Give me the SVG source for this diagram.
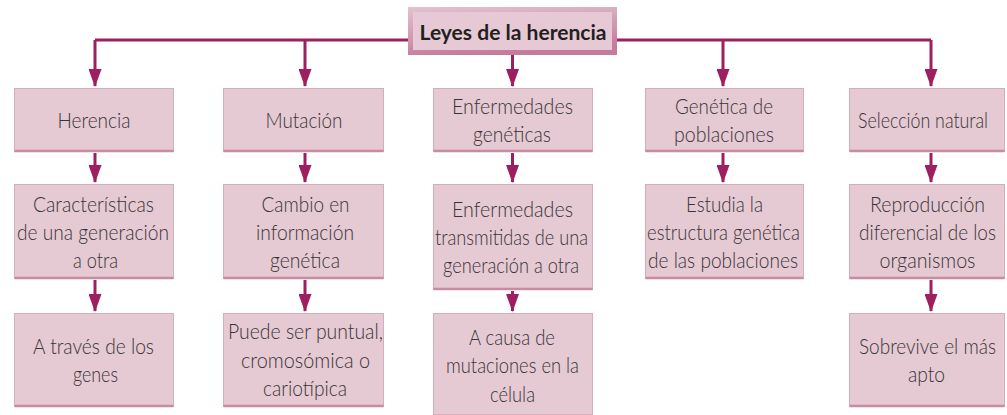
<svg xmlns="http://www.w3.org/2000/svg" width="1007" height="415" viewBox="0 0 1007 415">
  <style>
    .box { fill: #e5c9d3; stroke: #d6adbd; stroke-width: 1; }
    .edge { stroke: #c88ba3; stroke-width: 2.5; fill: none; }
    .t { font-family: Lato, "Open Sans", "Liberation Sans", sans-serif; font-weight: 300; font-size: 21.5px; fill: #3a3437; text-anchor: middle; }
    .title { font-family: Lato, "Open Sans", "Liberation Sans", sans-serif; font-weight: 700; font-size: 21.5px; fill: #231f20; text-anchor: middle; }
    .conn { stroke: #9d1f5f; stroke-width: 3; fill: none; }
  </style>
  <defs>
    <marker id="arrow" viewBox="0 0 18 13" refX="17" refY="6.5" markerWidth="18" markerHeight="13" markerUnits="userSpaceOnUse" orient="auto">
      <path d="M0,0 L18,6.5 L0,13 Z" fill="#9d1f5f"/>
    </marker>
    <linearGradient id="frame" x1="0" y1="0" x2="0.3" y2="1">
      <stop offset="0" stop-color="#e3c2cf"/>
      <stop offset="1" stop-color="#c47c9c"/>
    </linearGradient>
  </defs>
  <rect width="1007" height="415" fill="#ffffff"/>

  <g id="connectors">
    <path class="conn" d="M95,40 H931"/>
    <path class="conn" marker-end="url(#arrow)" d="M95,40 V86"/>
    <path class="conn" marker-end="url(#arrow)" d="M305,40 V86"/>
    <path class="conn" marker-end="url(#arrow)" d="M512.5,55 V86"/>
    <path class="conn" marker-end="url(#arrow)" d="M723,40 V86"/>
    <path class="conn" marker-end="url(#arrow)" d="M931,40 V86"/>

    <path class="conn" marker-end="url(#arrow)" d="M95,153 V182"/>
    <path class="conn" marker-end="url(#arrow)" d="M305,153 V182"/>
    <path class="conn" marker-end="url(#arrow)" d="M512.5,153 V182"/>
    <path class="conn" marker-end="url(#arrow)" d="M723,153 V182"/>
    <path class="conn" marker-end="url(#arrow)" d="M931,153 V182"/>

    <path class="conn" marker-end="url(#arrow)" d="M95,280 V311"/>
    <path class="conn" marker-end="url(#arrow)" d="M305,280 V311"/>
    <path class="conn" marker-end="url(#arrow)" d="M512.5,291 V311"/>
    <path class="conn" marker-end="url(#arrow)" d="M931,280 V311"/>
  </g>

  <g id="n-leyes">
    <rect x="408" y="7" width="209" height="48" fill="url(#frame)"/>
    <rect x="413" y="12" width="199" height="38" fill="#e6c9d4"/>
    <text class="title" x="513" y="39.5" textLength="187" lengthAdjust="spacingAndGlyphs">Leyes de la herencia</text>
  </g>

  <!-- Row 1 -->
  <g id="n-herencia">
    <rect class="box" x="14.5" y="88.5" width="159" height="63"/>
    <line class="edge" x1="14.5" y1="151" x2="173.5" y2="151"/>
    <text class="t" x="94" y="128" textLength="73" lengthAdjust="spacingAndGlyphs">Herencia</text>
  </g>
  <g id="n-mutacion">
    <rect class="box" x="223.5" y="88.5" width="160" height="63"/>
    <line class="edge" x1="223.5" y1="151" x2="383.5" y2="151"/>
    <text class="t" x="304" y="128" textLength="77" lengthAdjust="spacingAndGlyphs">Mutación</text>
  </g>
  <g id="n-enfermedades">
    <rect class="box" x="433.5" y="88.5" width="159" height="63"/>
    <line class="edge" x1="433.5" y1="151" x2="592.5" y2="151"/>
    <text class="t" x="512.5" y="114" textLength="121" lengthAdjust="spacingAndGlyphs">Enfermedades</text>
    <text class="t" x="512" y="142" textLength="78" lengthAdjust="spacingAndGlyphs">genéticas</text>
  </g>
  <g id="n-genetica-poblaciones">
    <rect class="box" x="645.5" y="88.5" width="158" height="63"/>
    <line class="edge" x1="645.5" y1="151" x2="803.5" y2="151"/>
    <text class="t" x="724" y="114" textLength="98" lengthAdjust="spacingAndGlyphs">Genética de</text>
    <text class="t" x="724" y="142" textLength="100" lengthAdjust="spacingAndGlyphs">poblaciones</text>
  </g>
  <g id="n-seleccion">
    <rect class="box" x="849.5" y="88.5" width="155" height="63"/>
    <line class="edge" x1="849.5" y1="151" x2="1004.5" y2="151"/>
    <text class="t" x="923" y="128" textLength="130" lengthAdjust="spacingAndGlyphs">Selección natural</text>
  </g>

  <!-- Row 2 -->
  <g id="n-caracteristicas">
    <rect class="box" x="14.5" y="184.5" width="159" height="94"/>
    <line class="edge" x1="14.5" y1="278" x2="173.5" y2="278"/>
    <text class="t" x="93.5" y="211.5" textLength="121" lengthAdjust="spacingAndGlyphs">Características</text>
    <text class="t" x="93" y="239.5" textLength="152" lengthAdjust="spacingAndGlyphs">de una generación</text>
    <text class="t" x="95.5" y="267.5" textLength="45" lengthAdjust="spacingAndGlyphs">a otra</text>
  </g>
  <g id="n-cambio">
    <rect class="box" x="223.5" y="184.5" width="160" height="94"/>
    <line class="edge" x1="223.5" y1="278" x2="383.5" y2="278"/>
    <text class="t" x="305.5" y="211.5" textLength="88" lengthAdjust="spacingAndGlyphs">Cambio en</text>
    <text class="t" x="305" y="239.5" textLength="98" lengthAdjust="spacingAndGlyphs">información</text>
    <text class="t" x="305" y="267.5" textLength="70" lengthAdjust="spacingAndGlyphs">genética</text>
  </g>
  <g id="n-enf-transmitidas">
    <rect class="box" x="433.5" y="184.5" width="159" height="105"/>
    <line class="edge" x1="433.5" y1="289" x2="592.5" y2="289"/>
    <text class="t" x="512.5" y="217" textLength="121" lengthAdjust="spacingAndGlyphs">Enfermedades</text>
    <text class="t" x="511.5" y="245" textLength="153" lengthAdjust="spacingAndGlyphs">transmitidas de una</text>
    <text class="t" x="511" y="273" textLength="136" lengthAdjust="spacingAndGlyphs">generación a otra</text>
  </g>
  <g id="n-estudia">
    <rect class="box" x="645.5" y="184.5" width="158" height="94"/>
    <line class="edge" x1="645.5" y1="278" x2="803.5" y2="278"/>
    <text class="t" x="724.5" y="211.5" textLength="77" lengthAdjust="spacingAndGlyphs">Estudia la</text>
    <text class="t" x="723.5" y="239.5" textLength="153" lengthAdjust="spacingAndGlyphs">estructura genética</text>
    <text class="t" x="723" y="267.5" textLength="150" lengthAdjust="spacingAndGlyphs">de las poblaciones</text>
  </g>
  <g id="n-reproduccion">
    <rect class="box" x="849.5" y="184.5" width="155" height="94"/>
    <line class="edge" x1="849.5" y1="278" x2="1004.5" y2="278"/>
    <text class="t" x="927.5" y="211.5" textLength="115" lengthAdjust="spacingAndGlyphs">Reproducción</text>
    <text class="t" x="927.5" y="239.5" textLength="137" lengthAdjust="spacingAndGlyphs">diferencial de los</text>
    <text class="t" x="927.5" y="267.5" textLength="96" lengthAdjust="spacingAndGlyphs">organismos</text>
  </g>

  <!-- Row 3 -->
  <g id="n-genes">
    <rect class="box" x="14.5" y="313.5" width="159" height="93"/>
    <line class="edge" x1="14.5" y1="406" x2="173.5" y2="406"/>
    <text class="t" x="93.5" y="354" textLength="121" lengthAdjust="spacingAndGlyphs">A través de los</text>
    <text class="t" x="95.5" y="382" textLength="45" lengthAdjust="spacingAndGlyphs">genes</text>
  </g>
  <g id="n-puede">
    <rect class="box" x="223.5" y="313.5" width="160" height="93"/>
    <line class="edge" x1="223.5" y1="406" x2="383.5" y2="406"/>
    <text class="t" x="305.5" y="339" textLength="155" lengthAdjust="spacingAndGlyphs">Puede ser puntual,</text>
    <text class="t" x="305.5" y="367.5" textLength="129" lengthAdjust="spacingAndGlyphs">cromosómica o</text>
    <text class="t" x="305" y="395.5" textLength="84" lengthAdjust="spacingAndGlyphs">cariotípica</text>
  </g>
  <g id="n-causa">
    <rect class="box" x="433.5" y="313.5" width="159" height="101"/>
    <text class="t" x="512" y="345" textLength="86" lengthAdjust="spacingAndGlyphs">A causa de</text>
    <text class="t" x="512.5" y="373" textLength="133" lengthAdjust="spacingAndGlyphs">mutaciones en la</text>
    <text class="t" x="512.5" y="401.5" textLength="45" lengthAdjust="spacingAndGlyphs">célula</text>
  </g>
  <g id="n-sobrevive">
    <rect class="box" x="849.5" y="313.5" width="155" height="93"/>
    <line class="edge" x1="849.5" y1="406" x2="1004.5" y2="406"/>
    <text class="t" x="927.5" y="354" textLength="137" lengthAdjust="spacingAndGlyphs">Sobrevive el más</text>
    <text class="t" x="926.5" y="382" textLength="37" lengthAdjust="spacingAndGlyphs">apto</text>
  </g>
</svg>
